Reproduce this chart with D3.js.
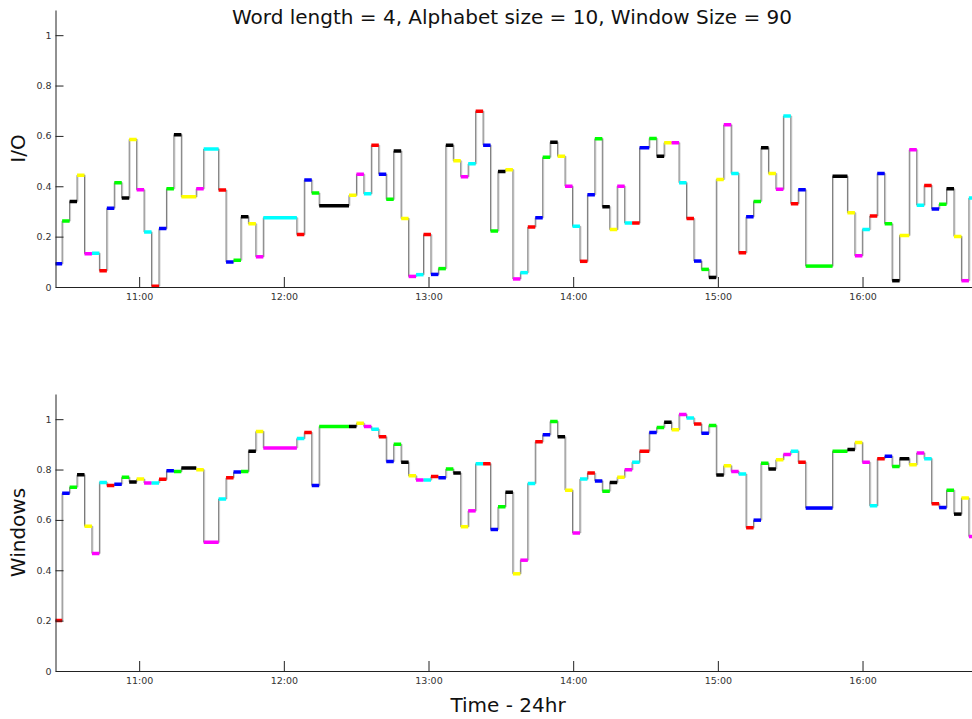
<!DOCTYPE html>
<html>
<head>
<meta charset="utf-8">
<script src="https://cdn.jsdelivr.net/npm/d3@7"></script>
<style>
  body { margin: 0; background: #fff; }
  svg { display: block; }
  .tick text { font-family: "DejaVu Sans", sans-serif; font-size: 9.5px; fill: #333; }
  .tick line, .domain { stroke: #222; }
  .label { font-family: "DejaVu Sans", sans-serif; font-size: 20px; fill: #111; }
</style>
</head>
<body>
<div id="chart"></div>
<script>
// symbol colours cycle b g k y m c r, one per word segment
const symbolColors = ['#0000ff', '#00ff00', '#000000', '#ffff00', '#ff00ff', '#00ffff', '#ff0000'];

// length of each segment, in sampling steps (both panels share the timing)
const stepUnits = [
  1, 1, 1, 1, 1, 1, 1, 1, 1, 1, 1, 1, 1, 1, 1, 1, 1, 2, 1, 2,
  1, 1, 1, 1, 1, 1, 4.5, 1, 1, 1, 4, 1, 1, 1, 1, 1, 1, 1, 1, 1,
  1, 1, 1, 1, 1, 1, 1, 1, 1, 1, 1, 1, 1, 1, 1, 1, 1, 1, 1, 1,
  1, 1, 1, 1, 1, 1, 1, 1, 1, 1, 1.3, 1, 1, 1, 1, 1, 1, 1, 1, 1,
  1, 1, 1, 1, 1, 1, 1, 1, 1, 1, 1, 1, 3.6, 2, 1, 1, 1, 1, 1, 1,
  1, 1.3, 1, 1, 1, 1, 1, 1, 1, 1, 1
];

const ioValues = [
  0.092, 0.262, 0.340, 0.444, 0.132, 0.134, 0.065, 0.313, 0.414, 0.353,
  0.586, 0.386, 0.218, 0.003, 0.232, 0.390, 0.605, 0.358, 0.390, 0.548,
  0.385, 0.099, 0.106, 0.279, 0.251, 0.120, 0.275, 0.208, 0.425, 0.373,
  0.323, 0.364, 0.448, 0.370, 0.563, 0.448, 0.348, 0.540, 0.272, 0.042,
  0.049, 0.208, 0.050, 0.073, 0.563, 0.501, 0.438, 0.489, 0.698, 0.563,
  0.222, 0.459, 0.466, 0.032, 0.057, 0.238, 0.275, 0.515, 0.575, 0.519,
  0.400, 0.241, 0.102, 0.366, 0.589, 0.319, 0.228, 0.400, 0.254, 0.254,
  0.553, 0.590, 0.519, 0.573, 0.573, 0.414, 0.272, 0.103, 0.070, 0.038,
  0.427, 0.644, 0.451, 0.136, 0.279, 0.340, 0.553, 0.451, 0.388, 0.679,
  0.331, 0.386, 0.083, 0.440, 0.295, 0.124, 0.228, 0.282, 0.451, 0.251,
  0.025, 0.205, 0.545, 0.325, 0.403, 0.310, 0.329, 0.390, 0.201, 0.025,
  0.353
];

const windowsValues = [
  0.201, 0.706, 0.730, 0.779, 0.575, 0.467, 0.749, 0.737, 0.742, 0.769,
  0.751, 0.762, 0.747, 0.747, 0.761, 0.795, 0.792, 0.806, 0.799, 0.511,
  0.683, 0.767, 0.790, 0.792, 0.873, 0.951, 0.886, 0.923, 0.947, 0.737,
  0.971, 0.971, 0.984, 0.971, 0.960, 0.930, 0.832, 0.900, 0.829, 0.775,
  0.758, 0.758, 0.772, 0.767, 0.802, 0.786, 0.573, 0.636, 0.823, 0.823,
  0.562, 0.652, 0.710, 0.386, 0.440, 0.745, 0.910, 0.938, 0.991, 0.930,
  0.718, 0.548, 0.762, 0.786, 0.755, 0.714, 0.749, 0.769, 0.799, 0.829,
  0.873, 0.947, 0.967, 0.988, 0.958, 1.019, 1.005, 0.981, 0.944, 0.975,
  0.778, 0.815, 0.792, 0.782, 0.569, 0.599, 0.825, 0.802, 0.839, 0.860,
  0.873, 0.829, 0.647, 0.873, 0.880, 0.907, 0.829, 0.656, 0.843, 0.853,
  0.812, 0.843, 0.819, 0.866, 0.843, 0.664, 0.649, 0.718, 0.623, 0.687,
  0.534
];

const yTicks = [0, 0.2, 0.4, 0.6, 0.8, 1];
const firstStartMin = 624.97;   // 10:24.97, minutes after midnight
const unitMin = 3.09;
const axisStartMin = 625.3;
const axisEndMin = 1005.4;

const width = 972, height = 719;
const left = 55.5, right = 972;

const base = new Date(2000, 0, 1).getTime();
const toDate = m => new Date(base + m * 60000);

// segment start / end times
const segments = [];
let t = firstStartMin;
stepUnits.forEach((u, i) => {
  segments.push({ i, start: toDate(t), end: toDate(t + u * unitMin) });
  t += u * unitMin;
});

const svg = d3.select('#chart').append('svg')
  .attr('width', width)
  .attr('height', height);

const x = d3.scaleTime()
  .domain([toDate(axisStartMin), toDate(axisEndMin)])
  .range([left, right]);

const panels = [
  { values: ioValues, label: 'I/O', top: 10, bottom: 287, colorOffset: 0 },
  { values: windowsValues, label: 'Windows', top: 394, bottom: 671, colorOffset: 6 }
];

panels.forEach((p, pi) => {
  const y = d3.scaleLinear().domain([0, 1.1]).range([p.bottom, p.top]);
  const data = segments.map(s => ({ ...s, v: p.values[s.i] }));

  const clipId = `clip${pi}`;
  svg.append('clipPath').attr('id', clipId)
    .append('rect')
    .attr('x', left).attr('y', p.top - 6)
    .attr('width', right - left).attr('height', p.bottom - p.top + 6);

  const g = svg.append('g').attr('clip-path', `url(#${clipId})`);

  const pts = data.map(d => [d.start, d.v]);
  const last = data[data.length - 1];
  pts.push([last.end, last.v]);

  const line = d3.line()
    .x(d => x(d[0]))
    .y(d => y(d[1]))
    .curve(d3.curveStepAfter);

  g.append('path')
    .attr('d', line(pts))
    .attr('fill', 'none')
    .attr('stroke', '#cfcfcf')
    .attr('stroke-width', 1)
    .attr('transform', 'translate(1,0)');

  g.append('path')
    .attr('d', line(pts))
    .attr('fill', 'none')
    .attr('stroke', '#7a7a7a')
    .attr('stroke-width', 1);

  g.selectAll('line.sym')
    .data(data)
    .join('line')
    .attr('class', 'sym')
    .attr('x1', d => x(d.start))
    .attr('x2', d => x(d.end))
    .attr('y1', d => y(d.v))
    .attr('y2', d => y(d.v))
    .attr('stroke', d => symbolColors[(d.i + p.colorOffset) % symbolColors.length])
    .attr('stroke-width', 3.5);

  // axes
  svg.append('g')
    .attr('transform', `translate(${left},0)`)
    .call(d3.axisLeft(y).tickValues(yTicks).tickFormat(d3.format('~g'))
      .tickSizeInner(-8).tickSizeOuter(0).tickPadding(4));

  svg.append('g')
    .attr('transform', `translate(0,${p.bottom})`)
    .call(d3.axisBottom(x).ticks(d3.timeHour.every(1)).tickFormat(d3.timeFormat('%H:%M'))
      .tickSizeInner(-10).tickSizeOuter(0).tickPadding(6));

  svg.append('text')
    .attr('class', 'label')
    .attr('transform', `translate(25,${(p.top + p.bottom) / 2}) rotate(-90)`)
    .attr('text-anchor', 'middle')
    .text(p.label);
});

svg.append('text')
  .attr('class', 'label')
  .attr('x', 512).attr('y', 24)
  .attr('text-anchor', 'middle')
  .text('Word length = 4, Alphabet size = 10, Window Size = 90');

svg.append('text')
  .attr('class', 'label')
  .attr('x', 508).attr('y', 712)
  .attr('text-anchor', 'middle')
  .text('Time - 24hr');
</script>
</body>
</html>
